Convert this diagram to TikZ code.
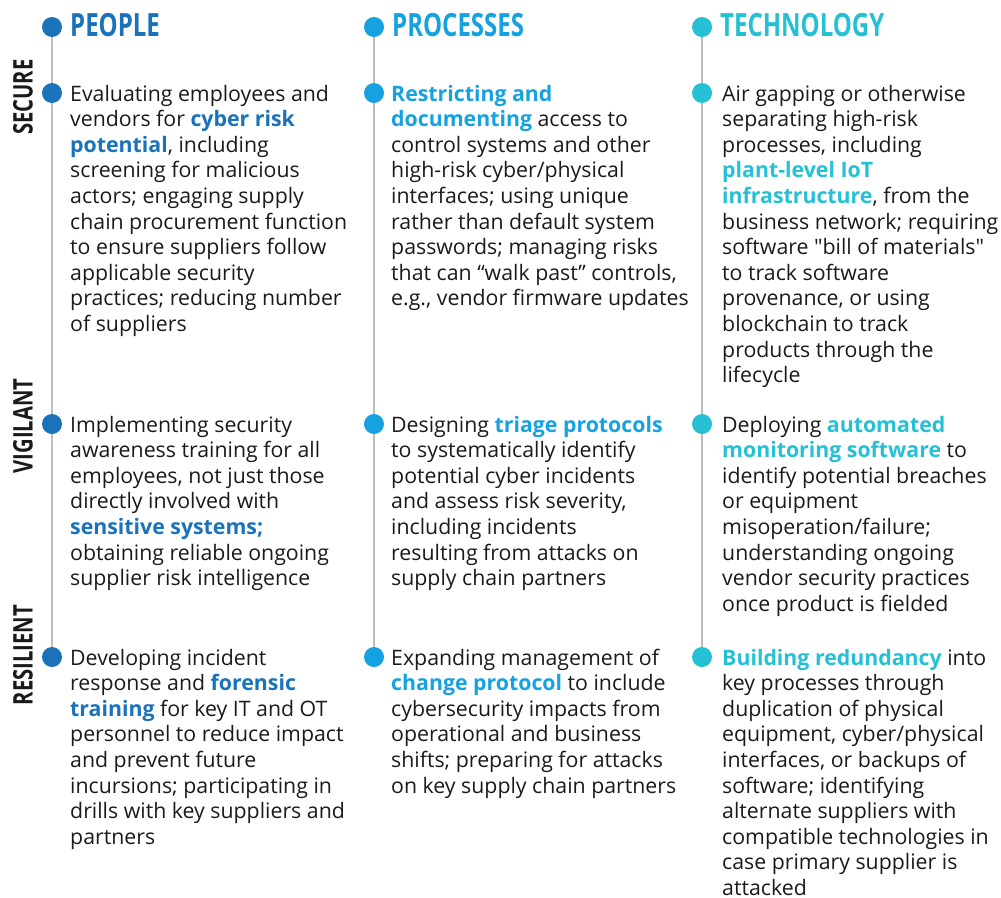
\documentclass[tikz,border=0pt]{standalone}
\usepackage{fontspec}
\setmainfont{Open Sans}
\newfontfamily\headfont[FakeStretch=0.75]{Open Sans}
\usetikzlibrary{positioning}

\definecolor{peoplecol}{HTML}{1A73BA}
\definecolor{processcol}{HTML}{16A2E0}
\definecolor{techcol}{HTML}{26C0D4}
\definecolor{railcol}{HTML}{BDBDBD}
\definecolor{inkcol}{HTML}{1A1A1A}

\newcommand{\hl}[2]{\textbf{\textcolor{#1}{#2}}}

\begin{document}
\begin{tikzpicture}
    [ x=1pt, y=-1pt
    , dot/.style={circle, fill=#1, inner sep=0pt, minimum size=20pt}
    , rail/.style={draw=railcol, line width=1.5pt}
    , head/.style={anchor=base west, inner sep=0pt, text=#1,
        font=\headfont\bfseries\fontsize{32}{32}\selectfont}
    , body/.style={anchor=north west, inner sep=0pt, align=left, text=inkcol,
        font=\fontsize{21.3}{25.6}\selectfont}
    , side/.style={rotate=90, inner sep=0pt, text=inkcol,
        font=\headfont\bfseries\fontsize{27}{27}\selectfont}
    ]
  \useasboundingbox (0,0) rectangle (1001,897);

  % dots and rails
  \foreach \c/\x/\col in {pe/52/peoplecol, pr/374/processcol, te/702/techcol} {
    \node[dot=\col] (\c h) at (\x,27) {};
    \node[dot=\col] (\c 1) at (\x,93) {};
    \node[dot=\col] (\c 2) at (\x,424) {};
    \node[dot=\col] (\c 3) at (\x,657) {};
    \draw[rail] (\c h) -- (\c 1);
    \draw[rail] (\c 1) -- (\c 2);
    \draw[rail] (\c 2) -- (\c 3);
  }

  % headings
  \node[head=peoplecol] (peopletitle) at (70,36) {PEOPLE};
  \node[head=processcol] (processtitle) at (392,36) {PROCESSES};
  \node[head=techcol] (techtitle) at (720,36) {TECHNOLOGY};

  % row labels
  \node[side] (secure) at (23,97) {SECURE};
  \node[side] (vigilant) at (23,426) {VIGILANT};
  \node[side] (resilient) at (23,655) {RESILIENT};

  % people
  \node[body] (pe1text) at (70,83) {\strut Evaluating employees and\\
    vendors for \hl{peoplecol}{cyber risk}\\
    \hl{peoplecol}{potential}, including\\
    screening for malicious\\
    actors; engaging supply\\
    chain procurement function\\
    to ensure suppliers follow\\
    applicable security\\
    practices; reducing number\\
    of suppliers};
  \node[body] (pe2text) at (70,414) {\strut Implementing security\\
    awareness training for all\\
    employees, not just those\\
    directly involved with\\
    \hl{peoplecol}{sensitive systems;}\\
    obtaining reliable ongoing\\
    supplier risk intelligence};
  \node[body] (pe3text) at (70,647) {\strut Developing incident\\
    response and \hl{peoplecol}{forensic}\\
    \hl{peoplecol}{training} for key IT and OT\\
    personnel to reduce impact\\
    and prevent future\\
    incursions; participating in\\
    drills with key suppliers and\\
    partners};

  % processes
  \node[body] (pr1text) at (391,83) {\strut \hl{processcol}{Restricting and}\\
    \hl{processcol}{documenting} access to\\
    control systems and other\\
    high-risk cyber/physical\\
    interfaces; using unique\\
    rather than default system\\
    passwords; managing risks\\
    that can “walk past” controls,\\
    e.g., vendor firmware updates};
  \node[body] (pr2text) at (391,414) {\strut Designing \hl{processcol}{triage protocols}\\
    to systematically identify\\
    potential cyber incidents\\
    and assess risk severity,\\
    including incidents\\
    resulting from attacks on\\
    supply chain partners};
  \node[body] (pr3text) at (391,647) {\strut Expanding management of\\
    \hl{processcol}{change protocol} to include\\
    cybersecurity impacts from\\
    operational and business\\
    shifts; preparing for attacks\\
    on key supply chain partners};

  % technology
  \node[body] (te1text) at (722,83) {\strut Air gapping or otherwise\\
    separating high-risk\\
    processes, including\\
    \hl{techcol}{plant-level IoT}\\
    \hl{techcol}{infrastructure}, from the\\
    business network; requiring\\
    software \textquotedbl bill of materials\textquotedbl\\
    to track software\\
    provenance, or using\\
    blockchain to track\\
    products through the\\
    lifecycle};
  \node[body] (te2text) at (722,414) {\strut Deploying \hl{techcol}{automated}\\
    \hl{techcol}{monitoring software} to\\
    identify potential breaches\\
    or equipment\\
    misoperation/failure;\\
    understanding ongoing\\
    vendor security practices\\
    once product is fielded};
  \node[body] (te3text) at (722,647) {\strut \hl{techcol}{Building redundancy} into\\
    key processes through\\
    duplication of physical\\
    equipment, cyber/physical\\
    interfaces, or backups of\\
    software; identifying\\
    alternate suppliers with\\
    compatible technologies in\\
    case primary supplier is\\
    attacked};
\end{tikzpicture}
\end{document}
